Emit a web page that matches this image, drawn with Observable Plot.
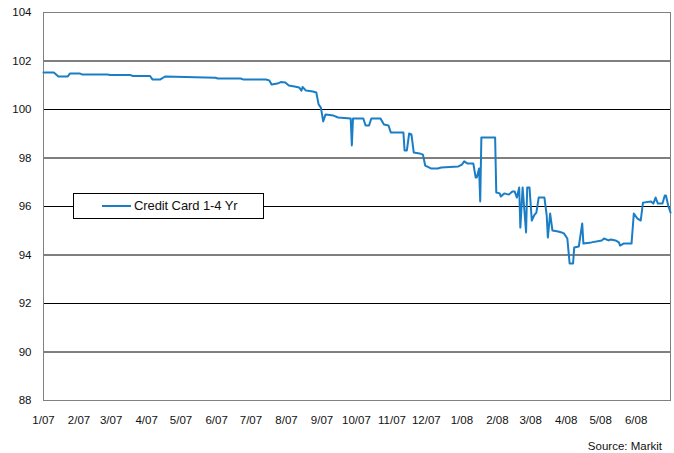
<!DOCTYPE html>
<html>
<head>
<meta charset="utf-8">
<script src="https://cdn.jsdelivr.net/npm/d3@7"></script>
<script src="https://cdn.jsdelivr.net/npm/@observablehq/plot@0.6"></script>
<style>
  html, body { margin: 0; padding: 0; background: #fff; }
  #wrap { position: relative; width: 674px; height: 453px; font-family: "Liberation Sans", Arial, sans-serif; }
  #legend { position: absolute; left: 73px; top: 193px; width: 189px; height: 24px; border: 1px solid #000; background: #fff; box-sizing: content-box; }
  #legend .sw { position: absolute; left: 28px; top: 11px; width: 29px; height: 2px; background: #1a7ec6; }
  #legend .lb { position: absolute; left: 60px; top: 4px; font-size: 13px; line-height: 15px; color: #111; letter-spacing: -0.1px; white-space: nowrap; }
  #caption { position: absolute; right: 12px; top: 440px; font-size: 11.5px; color: #111; }
</style>
</head>
<body>
<div id="wrap">
  <div id="chart"></div>
  <div id="legend"><div class="sw"></div><div class="lb">Credit Card 1-4 Yr</div></div>
  <div id="caption">Source: Markit</div>
</div>
<script>
const seriesName = "Credit Card 1-4 Yr";
const dates = [
  "2007-01-01","2007-01-10","2007-01-14","2007-01-22","2007-01-24","2007-02-02","2007-02-04","2007-02-26",
  "2007-02-28","2007-03-18","2007-03-20","2007-04-04","2007-04-06","2007-04-13","2007-04-17","2007-05-31",
  "2007-06-02","2007-06-22","2007-06-24","2007-07-14","2007-07-17","2007-07-19","2007-07-24","2007-07-27",
  "2007-07-31","2007-08-03","2007-08-08","2007-08-12","2007-08-14","2007-08-15","2007-08-18","2007-08-24",
  "2007-08-27","2007-08-29","2007-08-31","2007-09-02","2007-09-04","2007-09-11","2007-09-15","2007-09-26",
  "2007-09-27","2007-09-28","2007-10-07","2007-10-09","2007-10-12","2007-10-14","2007-10-22","2007-10-25",
  "2007-10-29","2007-10-31","2007-11-11","2007-11-12","2007-11-14","2007-11-16","2007-11-18","2007-11-20",
  "2007-11-25","2007-11-28","2007-11-30","2007-12-05","2007-12-11","2007-12-14","2007-12-29","2008-01-01",
  "2008-01-03","2008-01-06","2008-01-11","2008-01-13","2008-01-14","2008-01-16","2008-01-17","2008-01-18",
  "2008-01-30","2008-01-31","2008-02-03","2008-02-04","2008-02-07","2008-02-11","2008-02-14","2008-02-16",
  "2008-02-18","2008-02-20","2008-02-21","2008-02-23","2008-02-26","2008-02-27","2008-02-29","2008-03-02",
  "2008-03-04","2008-03-06","2008-03-08","2008-03-13","2008-03-15","2008-03-16","2008-03-18","2008-03-20",
  "2008-03-25","2008-03-28","2008-03-30","2008-04-02","2008-04-04","2008-04-07","2008-04-08","2008-04-12",
  "2008-04-15","2008-04-16","2008-04-23","2008-05-02","2008-05-04","2008-05-08","2008-05-10","2008-05-14",
  "2008-05-17","2008-05-18","2008-05-21","2008-05-28","2008-05-30","2008-06-02","2008-06-05","2008-06-07",
  "2008-06-14","2008-06-16","2008-06-18","2008-06-20","2008-06-24","2008-06-26","2008-06-27","2008-06-29",
  "2008-07-01"
];
const prices = [
  101.53,101.53,101.36,101.36,101.48,101.48,101.44,101.44,
  101.42,101.42,101.38,101.38,101.24,101.24,101.36,101.31,
  101.28,101.28,101.24,101.24,101.20,101.03,101.07,101.13,
  101.11,100.99,100.95,100.91,100.78,100.93,100.78,100.74,
  100.70,100.21,100.08,99.51,99.79,99.75,99.67,99.63,
  98.52,99.63,99.63,99.34,99.34,99.63,99.63,99.38,
  99.34,99.05,99.05,98.31,98.31,99.01,98.97,98.23,
  98.19,98.14,97.69,97.57,97.57,97.61,97.65,97.73,
  97.86,97.77,97.77,97.20,97.20,97.57,96.21,98.85,
  98.85,96.58,96.54,96.41,96.54,96.49,96.62,96.62,
  96.37,96.78,95.13,96.78,94.93,96.78,96.78,95.42,
  95.63,95.75,96.37,96.37,95.63,94.72,95.71,95.01,
  94.97,94.93,94.89,94.68,93.65,93.65,94.31,94.35,
  95.30,94.47,94.52,94.60,94.68,94.60,94.64,94.60,
  94.52,94.39,94.47,94.47,95.71,95.51,95.42,96.16,
  96.21,96.12,96.37,96.12,96.12,96.45,96.45,96.04,
  95.75
];
const xTickDates = ["2007-01-01","2007-02-01","2007-03-01","2007-04-01","2007-05-01","2007-06-01","2007-07-01","2007-08-01","2007-09-01","2007-10-01","2007-11-01","2007-12-01","2008-01-01","2008-02-01","2008-03-01","2008-04-01","2008-05-01","2008-06-01"];
const xTickLabels = ["1/07","2/07","3/07","4/07","5/07","6/07","7/07","8/07","9/07","10/07","11/07","12/07","1/08","2/08","3/08","4/08","5/08","6/08"];
const yTicks = [88, 90, 92, 94, 96, 98, 100, 102, 104];
const gridValues = [90, 92, 94, 96, 98, 100, 102];

const data = dates.map((d, i) => ({date: new Date(d + "T00:00:00Z"), value: prices[i]}));
const xTicks = xTickDates.map(d => new Date(d + "T00:00:00Z"));
const labelOf = new Map(xTicks.map((d, i) => [+d, xTickLabels[i]]));

const chart = Plot.plot({
  width: 674,
  height: 432,
  marginLeft: 43,
  marginRight: 4,
  marginTop: 12,
  marginBottom: 32,
  style: {fontFamily: "'Liberation Sans', Arial, sans-serif", fontSize: "11.5px", color: "#111", background: "#fff"},
  x: {
    type: "utc",
    domain: [new Date("2007-01-01T00:00:00Z"), new Date("2008-07-01T00:00:00Z")],
    ticks: xTicks,
    tickFormat: d => labelOf.get(+d),
    tickSize: 0,
    tickPadding: 15,
    label: null
  },
  y: {
    domain: [88, 104],
    ticks: yTicks,
    tickSize: 0,
    tickPadding: 12,
    label: null
  },
  marks: [
    Plot.ruleY(gridValues, {stroke: "#000", strokeWidth: 1, strokeOpacity: 1}),
    Plot.frame({stroke: "#808080", strokeWidth: 1}),
    Plot.line(data, {x: "date", y: "value", stroke: "#1a7ec6", strokeWidth: 2, curve: "linear"})
  ]
});
document.getElementById("chart").appendChild(chart);
</script>
</body>
</html>
